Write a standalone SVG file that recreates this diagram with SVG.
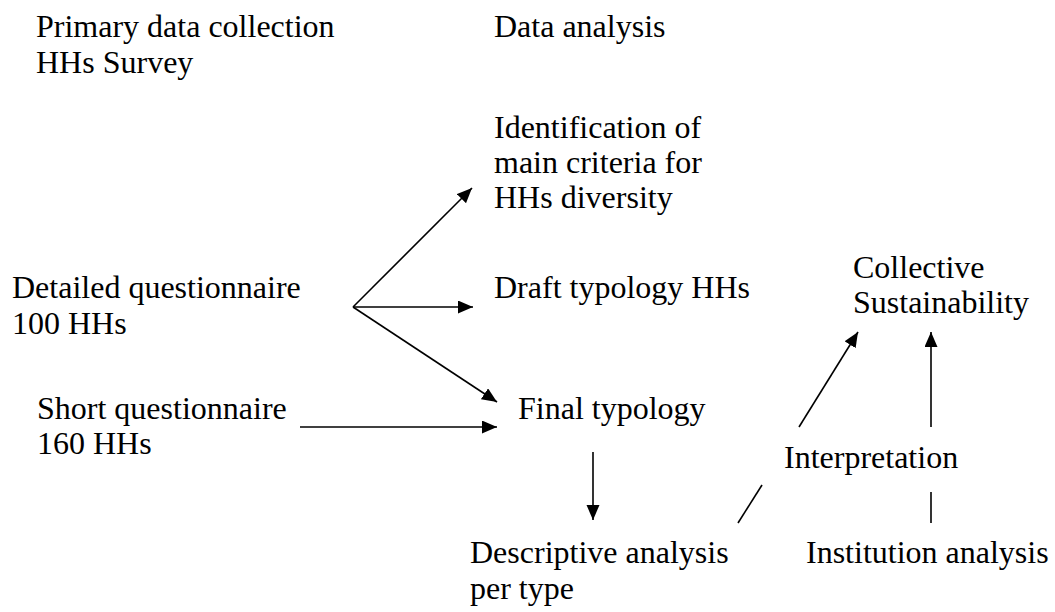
<svg xmlns="http://www.w3.org/2000/svg" width="1055" height="612" viewBox="0 0 1055 612">
  <style>
    .lbl { font-family: "Liberation Serif", "Times New Roman", serif; font-size: 32px; fill: #000; }
    .ln { stroke: #000; stroke-width: 1.6; fill: none; }
  </style>
  <defs>
    <marker id="ah" markerUnits="userSpaceOnUse" markerWidth="16" markerHeight="14" refX="15" refY="6.5" orient="auto">
      <path d="M0,0 L15,6.5 L0,13 Z" fill="#000"/>
    </marker>
  </defs>
  <rect width="1055" height="612" fill="#fff"/>

  <g id="primary-data-collection">
    <text class="lbl" x="36" y="37">Primary data collection</text>
    <text class="lbl" x="36" y="73">HHs Survey</text>
  </g>
  <g id="data-analysis">
    <text class="lbl" x="494" y="37">Data analysis</text>
  </g>
  <g id="identification">
    <text class="lbl" x="494" y="138">Identification of</text>
    <text class="lbl" x="494" y="173">main criteria for</text>
    <text class="lbl" x="494" y="208">HHs diversity</text>
  </g>
  <g id="detailed-questionnaire">
    <text class="lbl" x="12" y="298">Detailed questionnaire</text>
    <text class="lbl" x="12" y="334">100 HHs</text>
  </g>
  <g id="draft-typology">
    <text class="lbl" x="494" y="298">Draft typology HHs</text>
  </g>
  <g id="collective-sustainability">
    <text class="lbl" x="853" y="278">Collective</text>
    <text class="lbl" x="853" y="313">Sustainability</text>
  </g>
  <g id="short-questionnaire">
    <text class="lbl" x="37" y="419">Short questionnaire</text>
    <text class="lbl" x="37" y="454">160 HHs</text>
  </g>
  <g id="final-typology">
    <text class="lbl" x="518" y="419">Final typology</text>
  </g>
  <g id="interpretation">
    <text class="lbl" x="784" y="468">Interpretation</text>
  </g>
  <g id="descriptive-analysis">
    <text class="lbl" x="470" y="563">Descriptive analysis</text>
    <text class="lbl" x="470" y="599">per type</text>
  </g>
  <g id="institution-analysis">
    <text class="lbl" x="806" y="563">Institution analysis</text>
  </g>

  <g id="connectors">
    <line class="ln" x1="353" y1="307" x2="472" y2="188" marker-end="url(#ah)"/>
    <line class="ln" x1="353" y1="307" x2="473" y2="307" marker-end="url(#ah)"/>
    <line class="ln" x1="353" y1="307" x2="497" y2="402" marker-end="url(#ah)"/>
    <line class="ln" x1="300" y1="427" x2="497" y2="427" marker-end="url(#ah)"/>
    <line class="ln" x1="593" y1="452" x2="593" y2="520" marker-end="url(#ah)"/>
    <line class="ln" x1="738" y1="523" x2="762" y2="485"/>
    <line class="ln" x1="799" y1="427" x2="858" y2="332" marker-end="url(#ah)"/>
    <line class="ln" x1="931" y1="427" x2="931" y2="332" marker-end="url(#ah)"/>
    <line class="ln" x1="931" y1="492" x2="931" y2="523"/>
  </g>
</svg>
